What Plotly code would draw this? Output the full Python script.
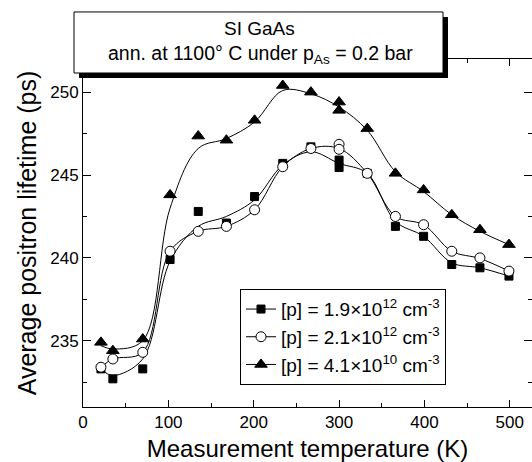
import plotly.graph_objects as go

# Measured points
T = [21, 35, 70, 102, 135, 168, 201, 234, 267, 300, 300, 333, 366, 399, 432, 465, 499]
sq = [233.3, 232.7, 233.3, 239.9, 242.8, 242.1, 243.7, 245.7, 246.7, 245.9, 245.45, 245.1, 241.9, 241.3, 239.6, 239.4, 238.9]
ci = [233.4, 233.9, 234.3, 240.4, 241.6, 241.9, 242.9, 245.5, 246.6, 246.85, 246.55, 245.1, 242.5, 242.0, 240.4, 240.0, 239.2]
tr = [234.9, 234.4, 235.1, 243.8, 247.35, 247.1, 248.3, 250.4, 250.0, 249.4, 248.9, 247.8, 245.1, 244.1, 242.6, 241.7, 240.8]

# Smoothed guide curves
T_fit = [21, 35, 70, 102, 135, 168, 201, 234, 267, 300, 333, 366, 399, 432, 465, 499]
sq_fit = [233.3, 232.9, 233.9, 239.8, 241.9, 242.5, 243.5, 245.6, 246.4, 245.7, 245.1, 242.2, 241.3, 239.7, 239.4, 238.9]
ci_fit = [233.4, 233.9, 234.3, 240.4, 241.6, 241.9, 242.9, 245.5, 246.6, 246.6, 245.1, 242.5, 242.0, 240.4, 239.96, 239.2]
tr_fit = [234.7, 234.5, 235.0, 243.0, 246.6, 247.2, 248.2, 250.1, 249.9, 249.1, 247.7, 245.2, 244.0, 242.6, 241.6, 240.8]

labels = ["[p] = 1.9×10<sup>12</sup> cm<sup>-3</sup>",
          "[p] = 2.1×10<sup>12</sup> cm<sup>-3</sup>",
          "[p] = 4.1×10<sup>10</sup> cm<sup>-3</sup>"]

FONT = "Liberation Sans, Arial, sans-serif"
series = [
    (sq, sq_fit, dict(symbol="square", size=8, color="black", line=dict(color="black", width=1))),
    (ci, ci_fit, dict(symbol="circle", size=10, color="white", line=dict(color="black", width=1))),
    (tr, tr_fit, dict(symbol="triangle-up", size=11, color="black", line=dict(color="black", width=1))),
]

fig = go.Figure()
for (vals, fit, mk), lab in zip(series, labels):
    fig.add_trace(go.Scatter(x=T_fit, y=fit, mode="lines", line=dict(color="black", width=1, shape="spline", smoothing=1.0),
                             showlegend=False, hoverinfo="skip"))
for (vals, fit, mk), lab in zip(series, labels):
    fig.add_trace(go.Scatter(x=T, y=vals, mode="markers", marker=mk, showlegend=False))
for (vals, fit, mk), lab in zip(series, labels):
    fig.add_trace(go.Scatter(x=[None], y=[None], mode="lines+markers", marker=mk,
                             line=dict(color="black", width=1), name=lab))

# plot area in px: x 83..532, y 59..406.7
L, R, TOP, BOT = 83, 532, 59, 406.7
W, H = R - L, BOT - TOP
def px(x): return (x - L) / W
def py(y): return (BOT - y) / H

shapes = [
    dict(type="rect", xref="paper", yref="paper", x0=px(79), x1=px(448), y0=py(78), y1=py(17),
         fillcolor="black", line=dict(width=0), layer="above"),
    dict(type="rect", xref="paper", yref="paper", x0=px(74), x1=px(443), y0=py(73), y1=py(12),
         fillcolor="white", line=dict(color="black", width=1), layer="above"),
]
annotations = [
    dict(text="SI GaAs", xref="paper", yref="paper", x=px(259), y=py(29), showarrow=False,
         xanchor="center", yanchor="middle", font=dict(size=19, color="black", family=FONT)),
    dict(text="ann. at 1100° C under p<sub>As</sub> = 0.2 bar", xref="paper", yref="paper", x=px(260), y=py(55),
         showarrow=False, xanchor="center", yanchor="middle", font=dict(size=19.5, color="black", family=FONT)),
]

fig.update_layout(
    width=532, height=462,
    margin=dict(l=L, r=0, t=TOP, b=462 - BOT),
    paper_bgcolor="white", plot_bgcolor="white",
    font=dict(family=FONT, color="black"),
    shapes=shapes, annotations=annotations,
    legend=dict(x=px(240), y=py(289), xanchor="left", yanchor="top", bgcolor="white",
                bordercolor="black", borderwidth=1, font=dict(size=19, family=FONT, color="black")),
    xaxis=dict(range=[0, 526], tickvals=[0, 100, 200, 300, 400, 500], ticks="inside", ticklen=7,
               tickcolor="black", showline=True, linecolor="black", linewidth=1, mirror="ticks",
               showgrid=False, zeroline=False, tickfont=dict(size=17),
               minor=dict(dtick=50, tick0=0, ticks="inside", ticklen=4, tickcolor="black"),
               title=dict(text="Measurement temperature (K)", font=dict(size=24), standoff=11)),
    yaxis=dict(range=[231, 252], tickvals=[235, 240, 245, 250], ticks="inside", ticklen=8,
               tickcolor="black", showline=True, linecolor="black", linewidth=1, mirror="ticks",
               showgrid=False, zeroline=False, tickfont=dict(size=17),
               minor=dict(dtick=2.5, tick0=235, ticks="inside", ticklen=4, tickcolor="black"),
               title=dict(text="Average positron lifetime (ps)", font=dict(size=25), standoff=6)),
)
fig.write_html("out.html")
